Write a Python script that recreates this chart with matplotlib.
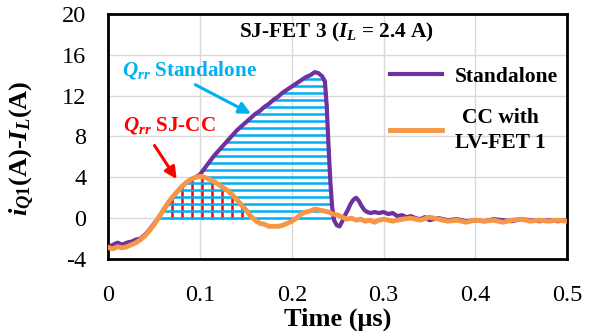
import numpy as np
import matplotlib
matplotlib.use("Agg")
import matplotlib.pyplot as plt

plt.rcParams['font.family'] = ['Liberation Serif', 'DejaVu Serif']
plt.rcParams['mathtext.fontset'] = 'custom'
plt.rcParams['mathtext.rm'] = 'Liberation Serif:bold'
plt.rcParams['mathtext.it'] = 'Liberation Serif:bold:italic'
plt.rcParams['mathtext.bf'] = 'Liberation Serif:bold'
plt.rcParams['axes.unicode_minus'] = False

# ---- data (time in us, current in A) ----
t_sa = [0.000, 0.005, 0.010, 0.015, 0.020, 0.025, 0.030, 0.035, 0.040, 0.045,
        0.050, 0.055, 0.060, 0.065, 0.070, 0.075, 0.080, 0.085, 0.090, 0.095,
        0.100, 0.105, 0.110, 0.115, 0.120, 0.125, 0.130, 0.135, 0.140, 0.145,
        0.150, 0.155, 0.160, 0.165, 0.170, 0.175, 0.180, 0.185, 0.190, 0.195,
        0.200, 0.205, 0.210, 0.215, 0.220, 0.225, 0.229, 0.233, 0.236, 0.238,
        0.240, 0.242, 0.244, 0.246, 0.249, 0.252, 0.255, 0.258, 0.261, 0.264,
        0.267, 0.270, 0.273, 0.276, 0.279, 0.282, 0.286, 0.290, 0.295, 0.300,
        0.305, 0.310, 0.315, 0.320, 0.325, 0.330, 0.335, 0.340, 0.345, 0.350,
        0.360, 0.370, 0.380, 0.390, 0.400, 0.410, 0.420, 0.430, 0.440, 0.450,
        0.460, 0.470, 0.480, 0.490, 0.500]
i_sa = [-2.8, -2.6, -2.4, -2.6, -2.4, -2.3, -2.1, -2.0, -1.6, -1.1,
        -0.5, 0.1, 0.8, 1.4, 2.0, 2.6, 3.1, 3.5, 3.8, 4.0,
        4.3, 4.9, 5.5, 6.1, 6.6, 7.1, 7.6, 8.1, 8.6, 9.0,
        9.4, 9.8, 10.2, 10.5, 10.9, 11.2, 11.6, 11.9, 12.3, 12.6,
        12.9, 13.2, 13.5, 13.8, 14.0, 14.3, 14.2, 13.9, 13.4, 11.0,
        7.0, 3.5, 1.0, -0.2, -0.7, -0.8, -0.3, 0.3, 0.8, 1.4,
        1.8, 2.0, 1.7, 1.2, 0.8, 0.6, 0.5, 0.6, 0.5, 0.6,
        0.4, 0.5, 0.2, 0.3, 0.1, 0.2, 0.0, -0.1, 0.1, -0.2,
        0.0, -0.2, -0.1, -0.3, -0.2, -0.3, -0.1, -0.2, -0.3, -0.1,
        -0.2, -0.3, -0.2, -0.3, -0.2]

t_cc = [0.000, 0.005, 0.010, 0.015, 0.020, 0.025, 0.030, 0.035, 0.040, 0.045,
        0.050, 0.055, 0.060, 0.065, 0.070, 0.075, 0.080, 0.085, 0.090, 0.095,
        0.100, 0.105, 0.110, 0.115, 0.120, 0.125, 0.130, 0.135, 0.140, 0.145,
        0.150, 0.155, 0.160, 0.165, 0.170, 0.175, 0.180, 0.185, 0.190, 0.195,
        0.200, 0.205, 0.210, 0.215, 0.220, 0.225, 0.230, 0.235, 0.240, 0.245,
        0.250, 0.255, 0.260, 0.265, 0.270, 0.275, 0.280, 0.285, 0.290, 0.295,
        0.300, 0.310, 0.320, 0.330, 0.340, 0.350, 0.360, 0.370, 0.380, 0.390,
        0.400, 0.410, 0.420, 0.430, 0.440, 0.450, 0.460, 0.470, 0.480, 0.490,
        0.500]
i_cc = [-2.9, -3.0, -2.8, -2.9, -2.8, -2.6, -2.4, -2.1, -1.7, -1.2,
        -0.6, 0.1, 0.8, 1.5, 2.1, 2.6, 3.1, 3.5, 3.8, 4.0,
        4.1, 4.0, 3.8, 3.6, 3.3, 3.0, 2.7, 2.3, 1.8, 1.3,
        0.8, 0.2, -0.2, -0.5, -0.6, -0.8, -0.8, -0.8, -0.7, -0.5,
        -0.3, 0.0, 0.4, 0.6, 0.7, 0.9, 0.8, 0.7, 0.6, 0.4,
        0.3, 0.1, -0.1, 0.0, -0.2, -0.1, -0.3, -0.2, -0.4, -0.2,
        -0.1, -0.3, -0.1, 0.0, -0.2, 0.1, -0.1, -0.3, -0.2, -0.4,
        -0.2, -0.3, -0.2, -0.4, -0.2, -0.1, -0.3, -0.2, -0.3, -0.2,
        -0.3]

x_ticks = [0, 0.1, 0.2, 0.3, 0.4, 0.5]
x_ticklabels = ['0', '0.1', '0.2', '0.3', '0.4', '0.5']
y_ticks = [-4, 0, 4, 8, 12, 16, 20]

PURPLE = '#7030A0'
ORANGE = '#F79646'
BLUE = '#00B0F0'
RED = '#FF0000'

fig = plt.figure(figsize=(5.97, 3.36), dpi=100)
ax = fig.add_axes([0.1817, 0.2292, 0.768, 0.7292])

t_sa_a = np.array(t_sa)
i_sa_a = np.array(i_sa)
t_cc_a = np.array(t_cc)
i_cc_a = np.array(i_cc)

# red vertical hatching (Qrr SJ-CC)
for tv in np.arange(0.069, 0.150, 0.011):
    top = np.interp(tv, t_cc_a, i_cc_a)
    ax.plot([tv, tv], [0, top], color=RED, lw=1.8, zorder=2)

# blue horizontal hatching (Qrr Standalone)
ipk = int(np.argmax(i_sa_a))
rise_t, rise_i = t_sa_a[8:ipk + 1], i_sa_a[8:ipk + 1]
fall_t, fall_i = t_sa_a[ipk:54][::-1], i_sa_a[ipk:54][::-1]
for lv in np.arange(0, 14.0, 0.68):
    t0 = np.interp(lv, rise_i, rise_t)
    t1 = np.interp(lv, fall_i, fall_t)
    ax.plot([t0, t1], [lv, lv], color=BLUE, lw=1.8, zorder=3)

ax.plot(t_sa, i_sa, color=PURPLE, lw=3.0, zorder=4, label='Standalone')
ax.plot(t_cc, i_cc, color=ORANGE, lw=3.5, zorder=5, label='CC with\nLV-FET 1')

ax.set_xlim(0, 0.5)
ax.set_ylim(-4, 20)
ax.set_xticks(x_ticks)
ax.set_xticklabels(x_ticklabels)
ax.set_yticks(y_ticks)
ax.tick_params(length=0, labelsize=17.5)
ax.tick_params(axis='x', pad=19)
ax.tick_params(axis='y', pad=16)
ax.grid(True, color='#D9D9D9', lw=1.0, zorder=0)
ax.set_axisbelow(True)
for s in ax.spines.values():
    s.set_linewidth(2.0)
    s.set_color('black')

ax.set_xlabel('Time (\u03bcs)', fontsize=19, fontweight='bold')
ax.xaxis.set_label_coords(0.5, -0.20)
ax.set_ylabel(r'$i_{Q1}$(A)-$I_L$(A)', fontsize=19, fontweight='bold')
ax.yaxis.set_label_coords(-0.158, 0.45)

ax.text(0.249, 18.2, r'SJ-FET 3 ($I_L$ = 2.4 A)', fontsize=15.3, fontweight='bold',
        ha='center', va='center', zorder=6)
ax.text(0.0147, 14.5, r'$Q_{rr}$ Standalone', fontsize=15.2, fontweight='bold',
        color=BLUE, ha='left', va='center', zorder=6)
ax.annotate('', xy=(0.158, 10.1), xytext=(0.092, 13.2),
            arrowprops=dict(arrowstyle='-|>,head_length=0.7,head_width=0.35',
                            color=BLUE, lw=2.2), zorder=6)
ax.text(0.016, 9.1, r'$Q_{rr}$ SJ-CC', fontsize=15.2, fontweight='bold',
        color=RED, ha='left', va='center', zorder=6)
ax.annotate('', xy=(0.076, 3.6), xytext=(0.0485, 7.35),
            arrowprops=dict(arrowstyle='-|>,head_length=0.7,head_width=0.35',
                            color=RED, lw=2.2), zorder=6)

leg = ax.legend(loc='upper left', bbox_to_anchor=(0.614, 0.785), frameon=False,
                fontsize=15.5, handlelength=2.4, handletextpad=0.6,
                labelspacing=1.0, borderpad=0, borderaxespad=0)
for txt in leg.get_texts():
    txt.set_fontweight('bold')
    txt.set_multialignment('center')
    txt.set_linespacing(1.3)

fig.savefig('out.png', dpi=100)
